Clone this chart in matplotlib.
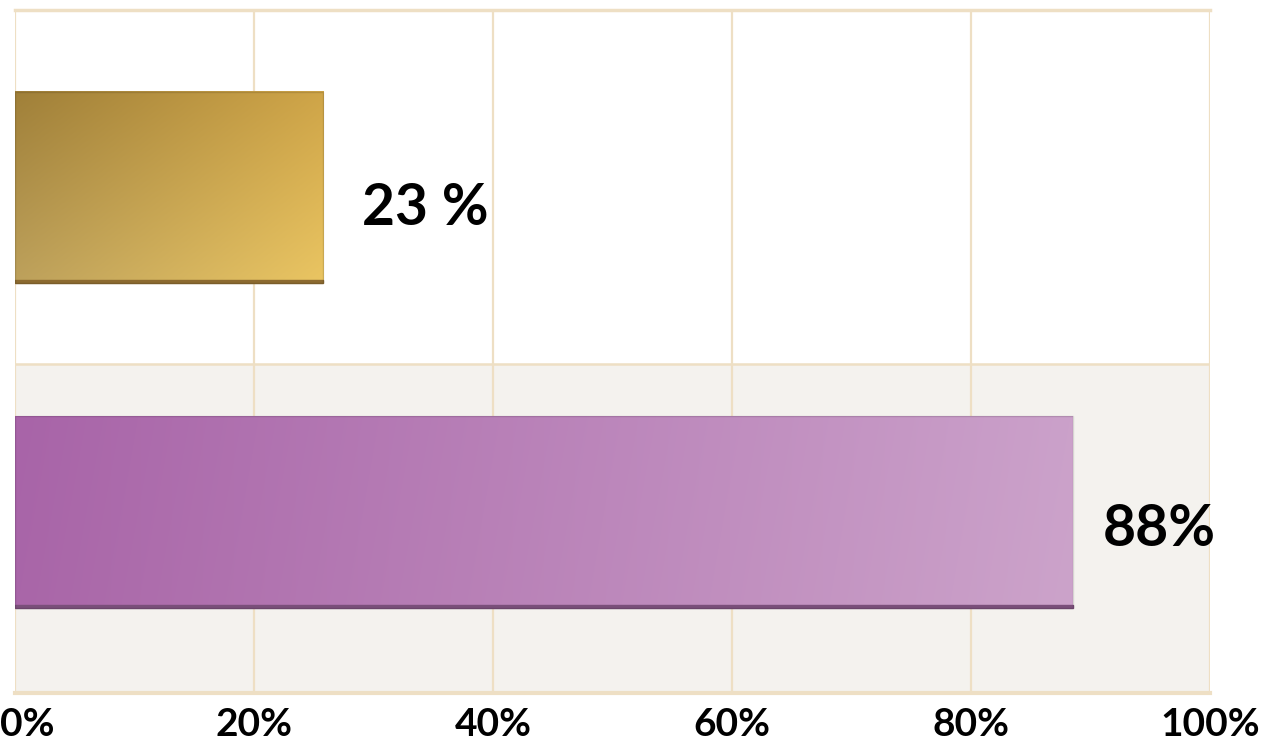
import numpy as np
import matplotlib.pyplot as plt
from matplotlib.transforms import ScaledTranslation

# two bars, top = gold, bottom = purple
categories = ["B", "A"]
bar_values = [88.5, 25.8]          # drawn lengths
bar_labels = ["88%", "23 %"]       # label text as printed
ticks = [0, 20, 40, 60, 80, 100]
tick_labels = ["0%", "20%", "40%", "60%", "80%", "100%"]

grid_col = "#EEDFC4"
font = ["Lato", "DejaVu Sans"]

# corner colours for the gradients: top-left, top-right, bottom-left, bottom-right
gold = ["#A08039", "#CFA548", "#BDA15C", "#EAC562"]
purple = ["#A864A8", "#CBA1CA", "#A966A8", "#CCA3CA"]
shadow = ["#7A4F7A", "#8C6A30"]


def corner_gradient(corners, n=200):
    c = np.array([[int(h[i:i + 2], 16) / 255 for i in (1, 3, 5)] for h in corners])
    u = np.linspace(0, 1, n)[None, :, None]
    v = np.linspace(0, 1, 60)[:, None, None]
    top = c[0] * (1 - u) + c[1] * u
    bot = c[2] * (1 - u) + c[3] * u
    return top * (1 - v) + bot * v


fig = plt.figure(figsize=(12.65, 7.47), dpi=100)
ax = fig.add_axes([15 / 1265, 1 - 693 / 747, 1195 / 1265, 683 / 747])

y = [0.03, 0.98]   # bar centres (layout)
band_split = 0.463
h = 0.56

ax.axhspan(-0.5, band_split, color="#F4F2EE", zorder=0)
for t in ticks:
    ax.axvline(t, color=grid_col, lw=1.6, zorder=1)
ax.axhline(band_split, color=grid_col, lw=1.8, zorder=1)
ax.axhline(1.5, color=grid_col, lw=2.5, zorder=1, clip_on=False)
ax.axhline(-0.5, color=grid_col, lw=3.0, zorder=1, clip_on=False)

bars = ax.barh(y, bar_values, height=h, color="none", zorder=3)
for bar, corners, sh in zip(bars, [purple, gold], shadow):
    x0, y0 = bar.get_x(), bar.get_y()
    w = bar.get_width()
    img = corner_gradient(corners)
    ax.imshow(img, extent=[x0, x0 + w, y0, y0 + h], aspect="auto",
              origin="upper", zorder=3, interpolation="bilinear")
    # thin dark strip along the bottom edge
    ax.add_patch(plt.Rectangle((x0, y0), w, 0.009, color=sh, zorder=4))
    ax.add_patch(plt.Rectangle((x0, y0), w, h, fill=False,
                               edgecolor=(0, 0, 0, 0.12), lw=1, zorder=4))

ax.set_xlim(0, 100)
ax.set_ylim(-0.5, 1.5)

label_pos = [(91.0, -0.02), (29.0, 0.92)]
for (lx, ly), txt in zip(label_pos, bar_labels):
    ax.text(lx, ly, txt, fontsize=41, fontweight="bold", family=font,
            va="center", ha="left", zorder=5)

ax.set_xticks(ticks)
ax.set_xticklabels(tick_labels, fontsize=28, fontweight="bold", family=font)
ax.tick_params(axis="x", length=0, pad=10)
first = ax.get_xticklabels()[0]
first.set_ha("left")
first.set_transform(first.get_transform()
                    + ScaledTranslation(-0.15, 0, fig.dpi_scale_trans))
ax.set_yticks([])
for s in ax.spines.values():
    s.set_visible(False)

fig.savefig("out.png", dpi=100)
